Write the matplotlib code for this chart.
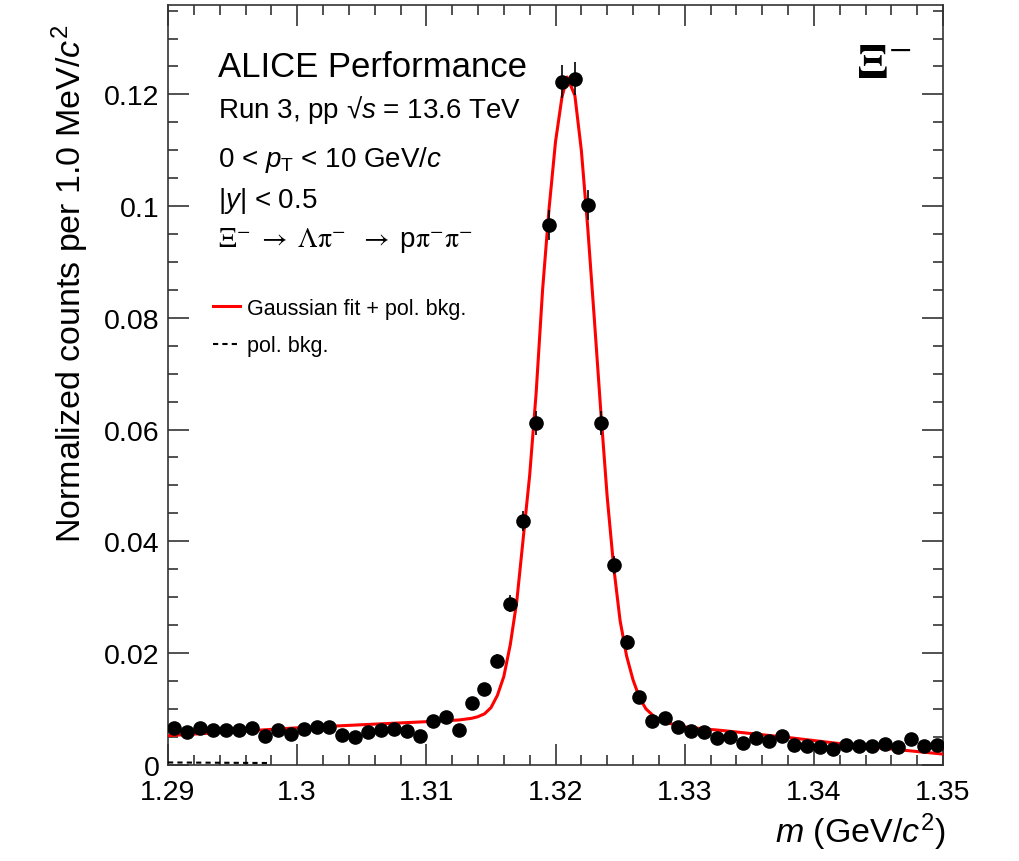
import numpy as np
import matplotlib
matplotlib.use("Agg")
import matplotlib.pyplot as plt
from matplotlib.ticker import MultipleLocator, FuncFormatter

plt.rcParams["font.family"] = ["Liberation Sans", "DejaVu Sans"]
plt.rcParams["mathtext.fontset"] = "custom"
plt.rcParams["mathtext.rm"] = "Liberation Sans"
plt.rcParams["mathtext.it"] = "Liberation Sans:italic"
plt.rcParams["mathtext.bf"] = "Liberation Sans:bold"

# invariant mass bins (bin centres, 1 MeV wide)
mass = np.arange(1.2905, 1.35, 0.001)

counts = [
    0.0066, 0.0059, 0.0066, 0.0063, 0.0062, 0.0062, 0.0066, 0.0052, 0.0062, 0.0055,
    0.0064, 0.0068, 0.0068, 0.0054, 0.0049, 0.0058, 0.0062, 0.0064, 0.0061, 0.0051,
    0.0079, 0.0085, 0.0063, 0.0110, 0.0136, 0.0186, 0.0288, 0.0436, 0.0612, 0.0966,
    0.1223, 0.1228, 0.1002, 0.0612, 0.0358, 0.0219, 0.0122, 0.0079, 0.0083, 0.0068,
    0.0061, 0.0058, 0.0048, 0.0049, 0.0039, 0.0047, 0.0043, 0.0051, 0.0036, 0.0034,
    0.0032, 0.0029, 0.0036, 0.0034, 0.0033, 0.0037, 0.0032, 0.0046, 0.0034, 0.0036,
]

errors = [
    0.0007, 0.0007, 0.0007, 0.0007, 0.0007, 0.0007, 0.0007, 0.0006, 0.0007, 0.0006,
    0.0007, 0.0007, 0.0007, 0.0006, 0.0006, 0.0007, 0.0007, 0.0007, 0.0007, 0.0006,
    0.0008, 0.0008, 0.0007, 0.0009, 0.0010, 0.0012, 0.0015, 0.0018, 0.0021, 0.0027,
    0.0030, 0.0030, 0.0027, 0.0021, 0.0016, 0.0013, 0.0009, 0.0008, 0.0008, 0.0007,
    0.0007, 0.0007, 0.0006, 0.0006, 0.0005, 0.0006, 0.0006, 0.0006, 0.0005, 0.0005,
    0.0005, 0.0005, 0.0005, 0.0005, 0.0005, 0.0005, 0.0005, 0.0006, 0.0005, 0.0005,
]

# fit curve
fit_x = [1.2900, 1.3000, 1.3100, 1.3125, 1.3135, 1.3140, 1.3145, 1.3150, 1.3155,
         1.3160, 1.3165, 1.3170, 1.3175, 1.3180, 1.3185, 1.3190, 1.3195, 1.3200,
         1.3205, 1.3209, 1.3215, 1.3220, 1.3225, 1.3230, 1.3235, 1.3240, 1.3245,
         1.3250, 1.3255, 1.3260, 1.3265, 1.3270, 1.3276, 1.3281, 1.3290, 1.3302,
         1.3330, 1.3379, 1.3430, 1.3500]
fit_y = [0.0052, 0.0066, 0.0077, 0.0080, 0.0083, 0.0086, 0.0091, 0.0102, 0.0124,
         0.0158, 0.0215, 0.0292, 0.0405, 0.0518, 0.0665, 0.0850, 0.0995, 0.1115,
         0.1195, 0.1231, 0.1198, 0.1100, 0.0960, 0.0800, 0.0635, 0.0480, 0.0355,
         0.0258, 0.0195, 0.0152, 0.0120, 0.0100, 0.0087, 0.0080, 0.0073, 0.0067,
         0.0061, 0.0049, 0.0035, 0.0019]

bkg_x = [1.2900, 1.2979]
bkg_y = [0.0004, 0.0003]

fig = plt.figure(figsize=(10.2, 8.62), dpi=100)
ax = fig.add_axes([168 / 1020, 1 - 765.7 / 862, 775 / 1020, 759.7 / 862])

ax.plot(fit_x, fit_y, color="#ff0000", lw=2.2, zorder=3, label="Gaussian fit + pol. bkg.")
ax.plot(bkg_x, bkg_y, color="black", lw=1.5, ls=(0, (2.5, 2)), zorder=3, label="pol. bkg.")
ax.errorbar(mass, counts, yerr=errors, fmt="o", color="black", ms=9.5,
            elinewidth=1.2, capsize=0, zorder=4)

ax.set_xlim(1.29, 1.35)
ax.set_ylim(0, 0.136)

ax.xaxis.set_major_locator(MultipleLocator(0.01))
ax.xaxis.set_minor_locator(MultipleLocator(0.002))
ax.yaxis.set_major_locator(MultipleLocator(0.02))
ax.yaxis.set_minor_locator(MultipleLocator(0.005))
ax.xaxis.set_major_formatter(FuncFormatter(lambda v, p: f"{v:.2f}".rstrip("0")))
ax.yaxis.set_major_formatter(FuncFormatter(lambda v, p: "0" if abs(v) < 1e-9 else f"{v:.2f}".rstrip("0")))

ax.tick_params(which="both", direction="in", top=True, right=True, width=1.2, color="#333333")
ax.tick_params(which="major", length=15, labelsize=20.5)
ax.tick_params(which="minor", length=7.5)
ax.tick_params(axis="x", which="major", pad=10)
ax.tick_params(axis="y", which="major", pad=6)
for s in ax.spines.values():
    s.set_linewidth(1.2)
    s.set_color("#333333")

fig.text(70 / 1020, 1 - 25 / 862, "Normalized counts per 1.0 MeV/$c^{2}$",
         rotation=90, ha="center", va="top", fontsize=24.5)
fig.text(945 / 1020, 1 - 832 / 862, "$m$ (GeV/$c^{2}$)",
         ha="right", va="center", fontsize=24.5)

tx = 218 / 1020
fig.text(tx, 1 - 77 / 862, "ALICE Performance", fontsize=25, va="baseline")
fig.text(tx, 1 - 118 / 862, "Run 3, pp √$s$ = 13.6 TeV", fontsize=20, va="baseline")
fig.text(tx, 1 - 167 / 862, "0 < $p_{\\rm T}$ < 10 GeV/$c$", fontsize=20, va="baseline")
fig.text(tx, 1 - 208 / 862, "|$y$| < 0.5", fontsize=20, va="baseline")
fig.text(tx, 1 - 247 / 862,
         r"$\Xi^{-}\ \rightarrow\ \Lambda\mathrm{\pi}^{-}\ \ \rightarrow\ $p$\mathrm{\pi}^{-}\mathrm{\pi}^{-}$",
         fontsize=20, va="baseline", math_fontfamily="stix")
fig.text(856 / 1020, 1 - 77 / 862, r"$\mathbf{\Xi}^{-}$", fontsize=35, va="baseline",
         math_fontfamily="stix")

ax.legend(loc="upper left", bbox_to_anchor=(213 / 1020, 1 - 299 / 862),
          bbox_transform=fig.transFigure, frameon=False, fontsize=15.5,
          handlelength=1.25, handletextpad=0.35, labelspacing=0.75, borderpad=0,
          borderaxespad=0)

fig.savefig("out.png", dpi=100)
